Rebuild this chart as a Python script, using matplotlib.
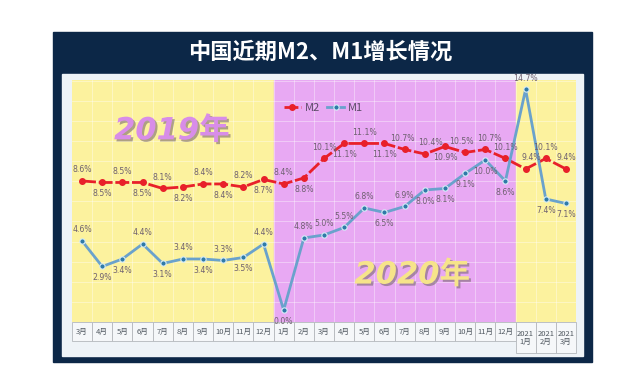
import matplotlib
matplotlib.use('agg')

import numpy as np
import matplotlib.pyplot as plt
import matplotlib.patheffects as pe
from matplotlib.patches import Rectangle
import matplotlib.transforms as mtransforms

plt.rcParams['font.family'] = ['Noto Sans CJK SC', 'DejaVu Sans']

months = ['3月', '4月', '5月', '6月', '7月', '8月', '9月', '10月', '11月', '12月',
          '1月', '2月', '3月', '4月', '5月', '6月', '7月', '8月', '9月', '10月', '11月', '12月',
          '2021\n1月', '2021\n2月', '2021\n3月']
m2 = [8.6, 8.5, 8.5, 8.5, 8.1, 8.2, 8.4, 8.4, 8.2, 8.7,
      8.4, 8.8, 10.1, 11.1, 11.1, 11.1, 10.7, 10.4, 10.9, 10.5, 10.7, 10.1,
      9.4, 10.1, 9.4]
m1 = [4.6, 2.9, 3.4, 4.4, 3.1, 3.4, 3.4, 3.3, 3.5, 4.4,
      0.0, 4.8, 5.0, 5.5, 6.8, 6.5, 6.9, 8.0, 8.1, 9.1, 10.0, 8.6,
      14.7, 7.4, 7.1]
# where each value label sits: a = above, b = below
m2_pos = list('ababababab' + 'abababaabaaa' + 'aaa')
m1_pos = list('abbabababa' + 'baaaababbbbb' + 'abb')
# small sideways shifts (points) for crowded M2 labels
m2_nudge = {16: -2, 17: 4, 19: -3, 20: 3, 22: 4}
n_2019, n_2020 = 10, 12

W, H = 641, 375
fig = plt.figure(figsize=(W / 100, H / 100), dpi=100)
fig.patch.set_facecolor('white')


def px(x0, y0, x1, y1):
    return [x0 / W, 1 - y1 / H, (x1 - x0) / W, (y1 - y0) / H]


# background panels
bg = fig.add_axes([0, 0, 1, 1])
bg.set_xlim(0, W)
bg.set_ylim(H, 0)
bg.axis('off')
bg.add_patch(Rectangle((53, 32), 539, 330, color='#0c2747'))
bg.add_patch(Rectangle((62, 74), 521, 282, color='#eef3f7'))
bg.text(320, 52, '中国近期M2、M1增长情况', color='white', fontsize=16,
        fontweight='bold', ha='center', va='center')

ax = fig.add_axes(px(72, 80, 576, 322))
x = np.arange(len(months))
ax.set_xlim(-0.5, len(months) - 0.5)
ax.set_ylim(-0.8, 15.33)

ax.axvspan(-0.5, n_2019 - 0.5, color='#fcf29e', zorder=0)
ax.axvspan(n_2019 - 0.5, n_2019 + n_2020 - 0.5, color='#e8a9f3', zorder=0)
ax.axvspan(n_2019 + n_2020 - 0.5, len(months) - 0.5, color='#fcf29e', zorder=0)

for xv in np.arange(0.5, len(months) - 0.5, 1):
    ax.axvline(xv, color='white', lw=0.6, alpha=0.45, zorder=1)
for yv in np.arange(-0.8, 15.4, 1.34):
    ax.axhline(yv, color='white', lw=0.6, alpha=0.45, zorder=1)

ax.plot(x, m2, color='#e8202a', lw=2, dashes=(5, 1), marker='o', ms=4,
        mfc='#e8202a', mec='#e8202a', label='M2', zorder=3)
ax.plot(x, m1, color='#6aa2cc', lw=2, marker='o', ms=3.8,
        mfc='#2f7aa8', mec='#d8eef8', mew=0.8, label='M1', zorder=3)

for name, series, where in (('m2', m2, m2_pos), ('m1', m1, m1_pos)):
    for xi, v, p in zip(x, series, where):
        dx = m2_nudge.get(xi, 0) if name == 'm2' else 0
        ax.annotate(f'{v:.1f}%', (xi, v), xytext=(dx, 5 if p == 'a' else -5),
                    textcoords='offset points', ha='center',
                    va='bottom' if p == 'a' else 'top', fontsize=5.6,
                    color='#6e6070', family='DejaVu Sans', zorder=4)

shadow = [pe.withSimplePatchShadow(offset=(1.5, -1.5), shadow_rgbFace='#7a6a70', alpha=0.6)]
ax.text(0.198, 0.79, '2019年', transform=ax.transAxes, fontsize=22,
        fontweight='bold', style='italic', color='#d88de8', ha='center',
        va='center', zorder=2, path_effects=shadow,
        family=['DejaVu Sans', 'Noto Sans CJK SC'])
ax.text(0.675, 0.194, '2020年', transform=ax.transAxes, fontsize=22,
        fontweight='bold', style='italic', color='#f6e48a', ha='center',
        va='center', zorder=2, path_effects=shadow,
        family=['DejaVu Sans', 'Noto Sans CJK SC'])

ax.legend(loc='center left', bbox_to_anchor=(0.40, 0.885), ncol=2, frameon=False,
          fontsize=8, handlelength=1.6, columnspacing=0.6, handletextpad=0.3,
          labelcolor='#5a4a66')

# month table under the axis
trans = mtransforms.blended_transform_factory(ax.transData, ax.transAxes)
cell_h = 19 / 242
for xi, lab in zip(x, months):
    h = cell_h * (1.65 if '\n' in lab else 1)
    ax.add_patch(Rectangle((xi - 0.5, -h), 1, h, transform=trans, clip_on=False,
                           facecolor='#f5f7f9', edgecolor='#b4b8bc', lw=0.6))
    ax.text(xi, -h / 2, lab, transform=trans, ha='center', va='center',
            fontsize=5.5, color='#505860', linespacing=1.0)

ax.set_xticks([])
ax.set_yticks([])
for s in ax.spines.values():
    s.set_visible(False)

fig.savefig('out.png', dpi=100)
